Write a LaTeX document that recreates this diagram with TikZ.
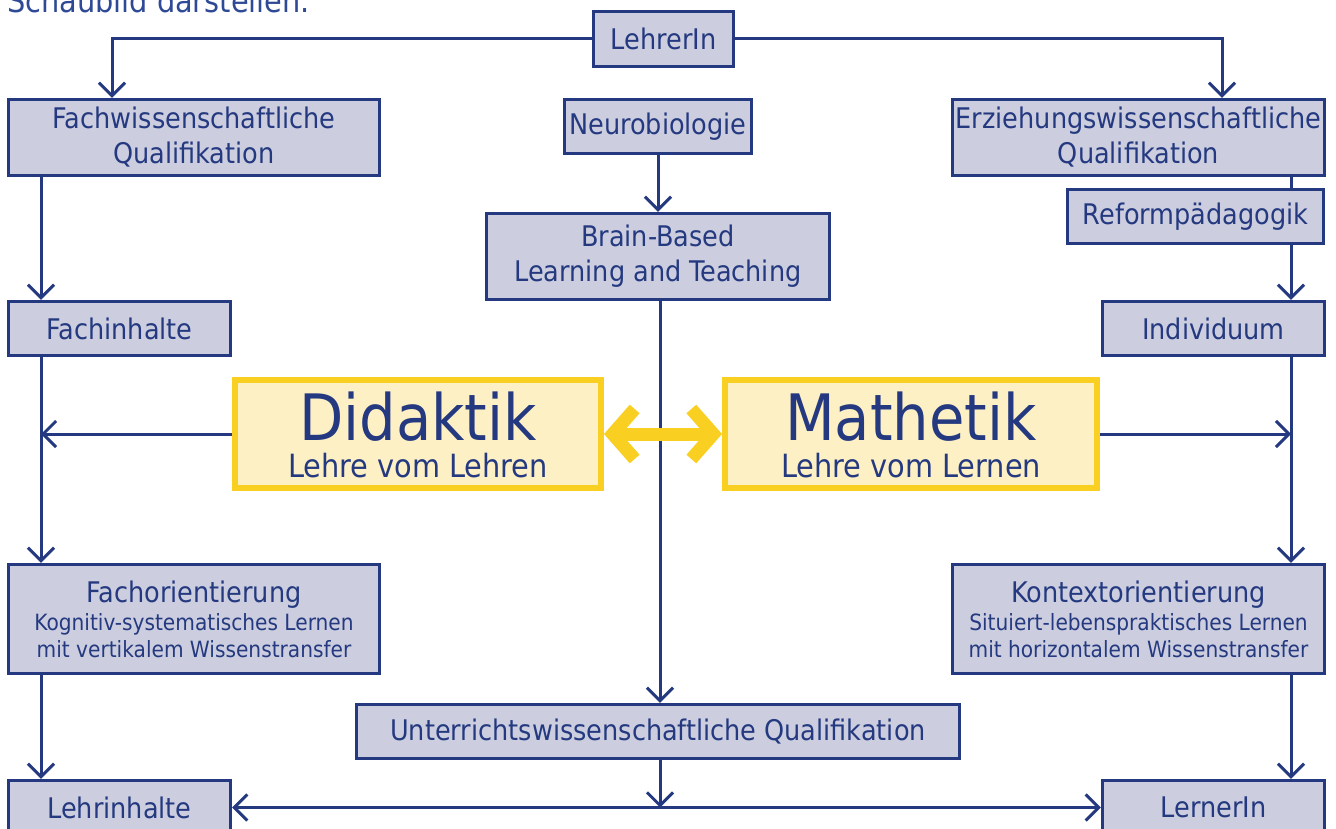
\documentclass[tikz,border=0pt]{standalone}
\usepackage{fontspec}
\setmainfont{DejaVu Sans Condensed}
\usetikzlibrary{arrows.meta}
\definecolor{navy}{HTML}{24397F}
\definecolor{navytext}{HTML}{2E4A96}
\definecolor{boxfill}{HTML}{CCCEDF}
\definecolor{yborder}{HTML}{F9CF22}
\definecolor{yfill}{HTML}{FDF0C4}
\newcommand\fmain{\fontsize{28.4}{35}\selectfont}
\newcommand\ftitle{\fontsize{32}{35}\selectfont}
\newcommand\fsubt{\fontsize{22.4}{27}\selectfont}
\newcommand\fbig{\fontsize{64}{64}\selectfont}
\newcommand\fmid{\fontsize{32}{32}\selectfont}
\tikzset{
  box/.style={draw=navy, fill=boxfill, line width=3.4pt, inner sep=0pt, text=navy, font=\fmain, align=center},
  ybox/.style={draw=yborder, fill=yfill, line width=6pt, inner sep=0pt},
  txt/.style={inner sep=0pt, text=navy},
  conn/.style={draw=navy, line width=3pt},
  arr/.style={conn, -{Straight Barb[length=13pt,width=26pt]}},
  darr/.style={conn, {Straight Barb[length=13pt,width=26pt]}-{Straight Barb[length=13pt,width=26pt]}},
  yarr/.style={draw=yborder, line width=13pt, {Straight Barb[length=22pt,width=50pt]}-{Straight Barb[length=22pt,width=50pt]}}
}
\begin{document}
\begin{tikzpicture}[x=1pt,y=-1pt]
\useasboundingbox (0,0) rectangle (1336,829);
\fill[white] (0,0) rectangle (1336,829);

\node[anchor=base west, inner sep=0pt, text=navytext, font=\ftitle] (title) at (7,13) {Schaubild darstellen.};

\coordinate (xl) at (41,0);
\coordinate (xr) at (1291,0);
\coordinate (xm) at (660,0);

\node[box, minimum width=140pt, minimum height=55pt] (lehrer) at (663.5,39) {LehrerIn};
\node[box, minimum width=371pt, minimum height=76pt] (fachwiss) at (194,137.5) {Fachwissenschaftliche\\Qualifikation};
\node[box, minimum width=187pt, minimum height=54pt] (neuro) at (658,126.5) {Neurobiologie};
\node[box, minimum width=372pt, minimum height=76pt] (erz) at (1138.5,137.5) {Erziehungswissenschaftliche\\Qualifikation};
\node[box, minimum width=256pt, minimum height=54pt] (reform) at (1195.5,216.5) {Reformpädagogik};
\node[box, minimum width=343pt, minimum height=86pt] (brain) at (658,256.5) {Brain-Based\\Learning and Teaching};
\node[box, minimum width=222pt, minimum height=54pt] (fachinh) at (119.5,328.5) {Fachinhalte};
\node[box, minimum width=222pt, minimum height=54pt] (indiv) at (1213.5,328.5) {Individuum};

\node[ybox, minimum width=366pt, minimum height=108pt] (did) at (418,434) {};
\node[txt, anchor=base, font=\fbig] (didt) at (418,440) {Didaktik};
\node[txt, anchor=base, font=\fmid] (dids) at (418,477) {Lehre vom Lehren};
\node[ybox, minimum width=372pt, minimum height=108pt] (mat) at (911,434) {};
\node[txt, anchor=base, font=\fbig] (matt) at (911,440) {Mathetik};
\node[txt, anchor=base, font=\fmid] (mats) at (911,477) {Lehre vom Lernen};

\node[box, minimum width=371pt, minimum height=109pt] (fachor) at (194,619) {};
\node[txt, anchor=base, font=\fmain] (fachort) at (194,602) {Fachorientierung};
\node[txt, anchor=base, font=\fsubt] (fachor1) at (194,630) {Kognitiv-systematisches Lernen};
\node[txt, anchor=base, font=\fsubt] (fachor2) at (194,657) {mit vertikalem Wissenstransfer};

\node[box, minimum width=372pt, minimum height=109pt] (kontext) at (1138.5,619) {};
\node[txt, anchor=base, font=\fmain] (kontextt) at (1138.5,602) {Kontextorientierung};
\node[txt, anchor=base, font=\fsubt] (kontext1) at (1138.5,630) {Situiert-lebenspraktisches Lernen};
\node[txt, anchor=base, font=\fsubt] (kontext2) at (1138.5,657) {mit horizontalem Wissenstransfer};

\node[box, minimum width=603pt, minimum height=54pt] (unterr) at (658,731.5) {Unterrichtswissenschaftliche Qualifikation};
\node[box, minimum width=222pt, minimum height=54pt] (lehrinh) at (119.5,807.5) {Lehrinhalte};
\node[box, minimum width=222pt, minimum height=54pt] (lerner) at (1213.5,807.5) {LernerIn};

% connectors
\draw[arr] (lehrer.west) -| ([xshift=-82pt]fachwiss.north);
\draw[arr] (lehrer.east) -| ([xshift=83.5pt]erz.north);
\draw[arr] (neuro.south) -- (brain.north);
\draw[arr] (xl |- fachwiss.south) -- (xl |- fachinh.north);
\draw[conn] (xr |- erz.south) -- (xr |- reform.north);
\draw[arr] (xr |- reform.south) -- (xr |- indiv.north);
\draw[arr] (xl |- fachinh.south) -- (xl |- fachor.north);
\draw[arr] (xr |- indiv.south) -- (xr |- kontext.north);
\draw[arr] (did.west) -- (xl |- did.west);
\draw[arr] (mat.east) -- (xr |- mat.east);
\draw[arr] (xm |- brain.south) -- (xm |- unterr.north);
\draw[arr] (xm |- unterr.south) -- (xm |- lehrinh.east);
\draw[darr] (lehrinh.east) -- (lerner.west);
\draw[arr] (xl |- fachor.south) -- (xl |- lehrinh.north);
\draw[arr] (xr |- kontext.south) -- (xr |- lerner.north);
\draw[yarr] (did.east) -- (mat.west);
\end{tikzpicture}
\end{document}
